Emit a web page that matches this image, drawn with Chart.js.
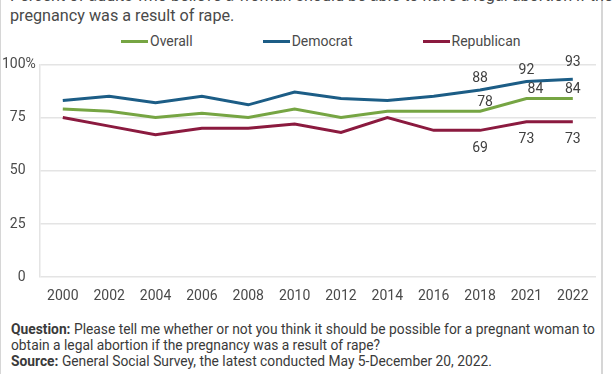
<!DOCTYPE html>
<html>
<head>
<meta charset="utf-8">
<script src="https://cdn.jsdelivr.net/npm/chart.js@4/dist/chart.umd.min.js"></script>
<style>
  html, body { margin: 0; padding: 0; background: #fff; }
  body { width: 612px; height: 374px; overflow: hidden; position: relative; font-family: Roboto, sans-serif; }
  #frame { position: absolute; left: 0; top: 0; width: 600px; height: 374px; border-left: 1px solid #d6d6d6; border-right: 2px solid #d6d6d6; }
  #title { position: absolute; left: 10px; top: -14px; width: 640px; font-size: 16.2px; line-height: 20px; color: #4a4a4a; }
  #legend { position: absolute; left: 121px; top: 32px; display: flex; gap: 70px; font-size: 14px; color: #4a4a4a; }
  .lg-item { display: flex; align-items: center; height: 18px; }
  .lg-line { width: 27px; height: 3px; margin-right: 2px; }
  #wrap { position: absolute; left: -12px; top: 42px; width: 624px; height: 274px; }
  #footer { position: absolute; left: 11px; top: 321px; width: 596px; font-size: 13.8px; line-height: 16px; color: #3a3a3a; }
</style>
</head>
<body>
<div id="frame"></div>
<div id="title">Percent of adults who believe a woman should be able to have a legal abortion if the<br>pregnancy was a result of rape.</div>
<div id="legend"></div>
<div id="wrap"><canvas id="chart"></canvas></div>
<div id="footer"><b>Question:</b> Please tell me whether or not you think it should be possible for a pregnant woman to obtain a legal abortion if the pregnancy was a result of rape?<br><b>Source:</b> General Social Survey, the latest conducted May 5-December 20, 2022.</div>
<script>
const years = ['2000', '2002', '2004', '2006', '2008', '2010', '2012', '2014', '2016', '2018', '2021', '2022'];
const overall = [79, 78, 75, 77, 75, 79, 75, 78, 78, 78, 84, 84];
const democrat = [83, 85, 82, 85, 81, 87, 84, 83, 85, 88, 92, 93];
const republican = [75, 71, 67, 70, 70, 72, 68, 75, 69, 69, 73, 73];
const yTicks = [0, 25, 50, 75, 100];

// which points get a value label (last three survey years)
const labelFrom = 9;

const series = [
  { label: 'Overall', data: overall, color: '#76a543', dy: -9, dx: [5, 9, 0] },
  { label: 'Democrat', data: democrat, color: '#1c5d86', dy: -11, dx: [0, 0, 0], extra: [0, 0, -6] },
  { label: 'Republican', data: republican, color: '#8b1a3f', dy: 18, dx: [0, 0, 0] }
];

// legend
const legendEl = document.getElementById('legend');
series.forEach(s => {
  const item = document.createElement('div');
  item.className = 'lg-item';
  item.innerHTML = `<span class="lg-line" style="background:${s.color}"></span><span>${s.label}</span>`;
  legendEl.appendChild(item);
});

const valueLabels = {
  id: 'valueLabels',
  afterDatasetsDraw(chart) {
    const ctx = chart.ctx;
    ctx.save();
    ctx.font = '14px Roboto';
    ctx.fillStyle = '#404040';
    ctx.textAlign = 'center';
    ctx.textBaseline = 'middle';
    series.forEach((s, di) => {
      const meta = chart.getDatasetMeta(di);
      meta.data.forEach((pt, i) => {
        if (i < labelFrom) return;
        const k = i - labelFrom;
        const dx = s.dx[k] || 0;
        const dy = s.dy + ((s.extra && s.extra[k]) || 0);
        ctx.fillText(String(s.data[i]), pt.x + dx, pt.y + dy);
      });
    });
    ctx.restore();
  }
};

// the "%" hangs to the right of the 100 label
const percentSign = {
  id: 'percentSign',
  afterDraw(chart) {
    const y = chart.scales.y;
    const ctx = chart.ctx;
    ctx.save();
    ctx.font = '14px Roboto';
    ctx.fillStyle = '#4a4a4a';
    ctx.textAlign = 'left';
    ctx.textBaseline = 'middle';
    ctx.fillText('%', y.right - y.options.ticks.padding, y.getPixelForValue(100));
    ctx.restore();
  }
};

new Chart(document.getElementById('chart'), {
  type: 'line',
  data: {
    labels: years,
    datasets: series.map(s => ({
      label: s.label,
      data: s.data,
      borderColor: s.color,
      backgroundColor: s.color,
      borderWidth: 3,
      pointRadius: 0,
      tension: 0
    }))
  },
  options: {
    responsive: true,
    maintainAspectRatio: false,
    animation: false,
    layout: { padding: { top: 14, left: 0, right: 16, bottom: 0 } },
    plugins: { legend: { display: false }, tooltip: { enabled: false } },
    scales: {
      x: {
        offset: true,
        grid: { display: false, drawTicks: false },
        border: { display: false },
        ticks: { color: '#4a4a4a', font: { family: 'Roboto', size: 14 }, padding: 11, autoSkip: false, maxRotation: 0 }
      },
      y: {
        min: 0,
        max: 100,
        afterBuildTicks: axis => { axis.ticks = yTicks.map(v => ({ value: v })); },
        grid: { color: '#e4e4e4', lineWidth: 1.5, drawTicks: false },
        border: { display: true, color: '#e4e4e4', width: 1.5 },
        ticks: { color: '#4a4a4a', font: { family: 'Roboto', size: 14 }, padding: 14 }
      }
    }
  },
  plugins: [valueLabels, percentSign]
});
</script>
</body>
</html>
